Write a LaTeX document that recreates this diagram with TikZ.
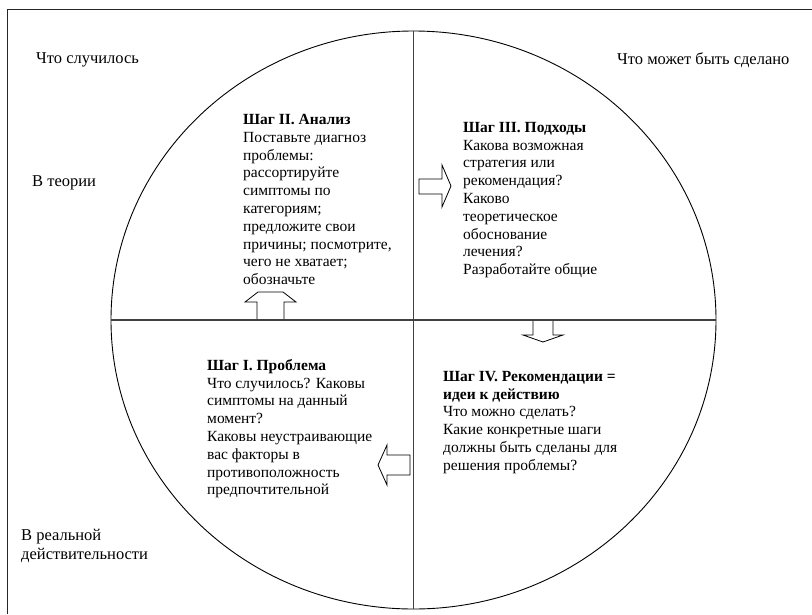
\documentclass[tikz,border=0pt]{standalone}
\usepackage{fontspec}
\setmainfont{Liberation Serif}
\begin{document}
\begin{tikzpicture}[x=1pt,y=-1pt,
  txt/.style={anchor=north west, inner sep=0pt, align=left, font=\fontsize{15.5}{17.8}\selectfont},
  outer/.style={anchor=west, inner sep=0pt, align=left, font=\fontsize{16.5}{18.5}\selectfont},
  blockarrow/.style={draw=black, fill=white, line width=0.8pt, line join=miter},
  divider/.style={draw=black!75, line width=1.1pt},
  rim/.style={draw=black, line width=0.9pt},
  frameline/.style={draw=black!85, line width=1pt}]
\useasboundingbox (0,0) rectangle (812,614);
\fill[white] (0,0) rectangle (812,614);
% frame (cropped)
\draw[frameline] (7,614) -- (7,9) -- (812,9);
% circle
\coordinate (c) at (413.5,320);
\draw[rim] (c) ellipse [x radius=302.5, y radius=289];
% block arrows
\draw[blockarrow] (419,179) -- (442,179) -- (442,165) -- (451,186) -- (442,207) -- (442,194) -- (419,194) -- cycle;
\draw[blockarrow] (533,320) -- (533,335) -- (523,335) -- (543,342) -- (563,335) -- (553,335) -- (553,320);
\draw[blockarrow] (410,455) -- (387,455) -- (387,445) -- (378,465) -- (387,485) -- (387,475) -- (410,475) -- cycle;
\draw[blockarrow] (257,319) -- (257,302) -- (245,302) -- (258,292) -- (283,292) -- (296,302) -- (284,302) -- (284,319);
% dividers
\coordinate (top) at (413.5,31);
\coordinate (bot) at (413.5,609);
\coordinate (lft) at (111,320);
\coordinate (rgt) at (716,320);
\draw[divider] (top) -- (bot);
\draw[divider] (lft) -- (rgt);
% outer labels
\node[outer] (happened) at (36,60) {Что случилось};
\node[outer] (canbedone) at (617,60) {Что может быть сделано};
\node[outer] (theory) at (32,183) {В теории};
\node[outer] (reality) at (21,546) {В реальной\\действительности};
% quadrant texts
\node[txt] (q2) at (243,114) {\textbf{Шаг II. Анализ}\\Поставьте диагноз\\проблемы:\\рассортируйте\\симптомы по\\категориям;\\предложите свои\\причины; посмотрите,\\чего не хватает;\\обозначьте};
\node[txt] (q3) at (463,122) {\textbf{Шаг III. Подходы}\\Какова возможная\\стратегия или\\рекомендация?\\Каково\\теоретическое\\обоснование\\лечения?\\Разработайте общие};
\node[txt] (q1) at (207,359) {\textbf{Шаг I. Проблема}\\Что случилось? Каковы\\симптомы на данный\\момент?\\Каковы неустраивающие\\вас факторы в\\противоположность\\предпочтительной};
\node[txt] (q4) at (443,371) {\textbf{Шаг IV. Рекомендации =}\\\textbf{идеи к действию}\\Что можно сделать?\\Какие конкретные шаги\\должны быть сделаны для\\решения проблемы?};
\end{tikzpicture}
\end{document}
